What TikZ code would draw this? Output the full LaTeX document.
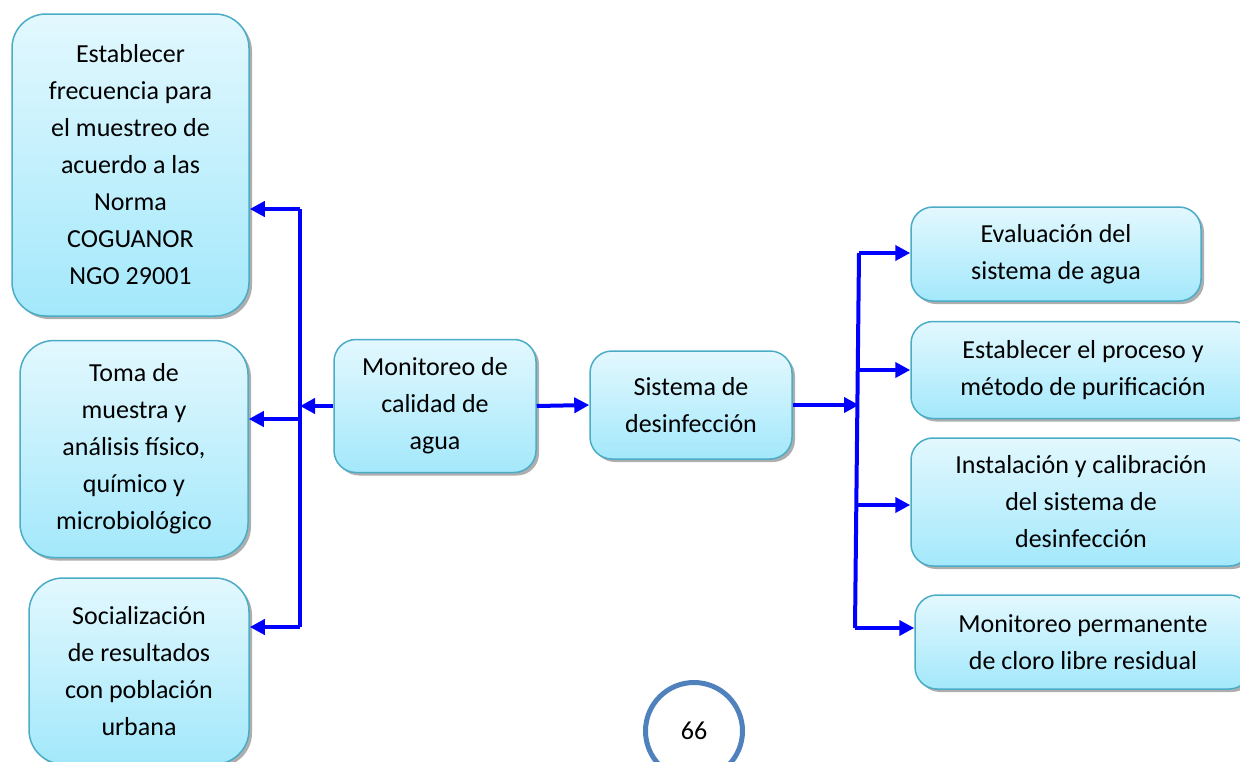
\documentclass[tikz,border=0pt]{standalone}
\usepackage{fontspec}
\setmainfont{Carlito}
\usetikzlibrary{positioning,arrows.meta,shadows}
\definecolor{boxline}{HTML}{4BACC6}
\definecolor{boxtop}{HTML}{E3F8FE}
\definecolor{boxbot}{HTML}{A3E8FB}
\definecolor{ringblue}{HTML}{4F81BD}

\begin{document}
\begin{tikzpicture}[x=1pt, y=-1pt,
                    task/.style={draw=boxline, line width=1.5pt, top color=boxtop, bottom color=boxbot,
                                 rounded corners=22pt, align=center, inner sep=0pt,
                                 font=\fontsize{26}{37}\selectfont,
                                 drop shadow={shadow xshift=3pt, shadow yshift=-3pt, fill=black!45, opacity=.7}},
                    tall/.style={task, rounded corners=34pt},
                    link/.style={blue, line width=4pt, -{Triangle[length=15pt, width=15pt]}},
                    bus/.style={blue, line width=4pt},
                ]
                \useasboundingbox (0,0) rectangle (1240,761);
                %Nodes
                \node[tall, minimum width=237pt, minimum height=302pt] (est)  at (130.5,165) {Establecer\\frecuencia para\\el muestreo de\\acuerdo a las\\Norma\\COGUANOR\\NGO 29001};
                \node[tall, minimum width=228pt, minimum height=217pt] (toma) at (134,449) {Toma de\\muestra y\\análisis físico,\\químico y\\microbiológico};
                \node[tall, minimum width=220pt, minimum height=186pt] (soc)  at (139,671) {Socialización\\de resultados\\con población\\urbana};
                \node[task, minimum width=202pt, minimum height=133pt] (mon)  at (435,406) {Monitoreo de\\calidad de\\agua};
                \node[task, minimum width=202pt, minimum height=108pt] (sis)  at (691,405) {Sistema de\\desinfección};
                \node[task, minimum width=290pt, minimum height=94pt]  (eva)  at (1056,254) {Evaluación del\\sistema de agua};
                \node[task, minimum width=344pt, minimum height=97pt]  (pro)  at (1083,370) {Establecer el proceso y\\método de purificación};
                \node[task, minimum width=340pt, minimum height=128pt] (ins)  at (1081,502) {Instalación y calibración\\del sistema de\\desinfección};
                \node[task, minimum width=336pt, minimum height=94pt]  (perm) at (1083,642) {Monitoreo permanente\\de cloro libre residual};
                \node[draw=ringblue, line width=5pt, circle, minimum size=97pt, font=\fontsize{26}{30}\selectfont] (page) at (694,731) {66};
                %Left branch
                \coordinate (l1) at (300,209);
                \coordinate (l2) at (300,419);
                \coordinate (l3) at (300,627);
                \draw[bus] (l1) -- (l3);
                \draw[link] (mon.west) -- (mon.west -| l1);
                \draw[link] (l1) -- (l1 -| est.east);
                \draw[link] (l2) -- (l2 -| toma.east);
                \draw[link] (l3) -- (l3 -| soc.east);
                %Right branch
                \coordinate (r1) at (859,253);
                \coordinate (r2) at (859,370);
                \coordinate (r3) at (857,505);
                \coordinate (r4) at (855,628);
                \draw[link] (mon.east) -- (sis.west);
                \draw[bus] (r1) -- (r4);
                \draw[link] (sis.east) -- (sis.east -| r1);
                \draw[link] (r1) -- (r1 -| eva.west);
                \draw[link] (r2) -- (r2 -| pro.west);
                \draw[link] (r3) -- (r3 -| ins.west);
                \draw[link] (r4) -- (r4 -| perm.west);
            \end{tikzpicture}
\end{document}
